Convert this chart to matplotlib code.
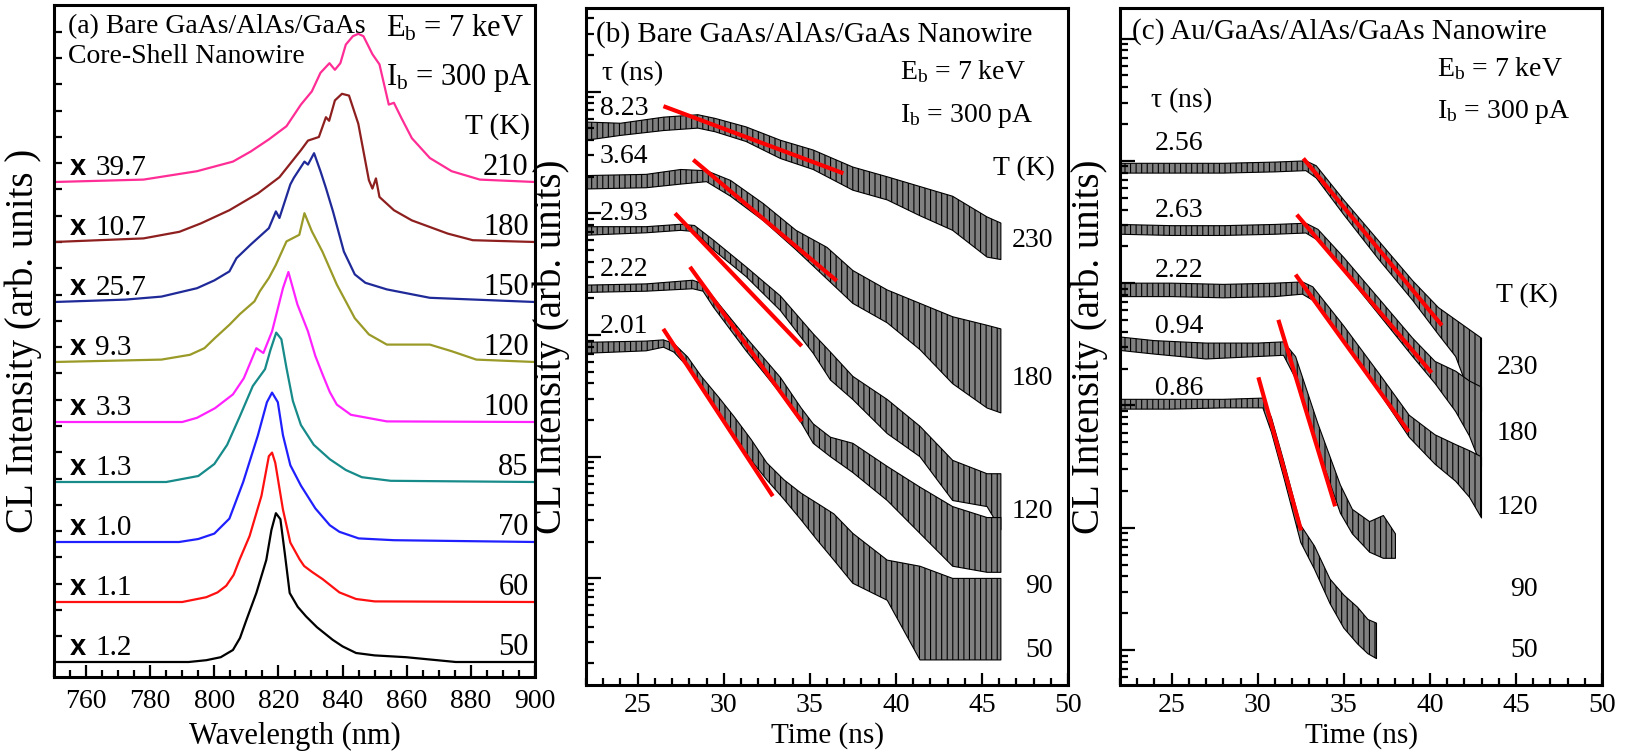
import numpy as np
import matplotlib.pyplot as plt
from matplotlib.ticker import MultipleLocator, LogLocator, NullFormatter

plt.rcParams['font.family'] = 'Liberation Serif'
plt.rcParams['mathtext.fontset'] = 'custom'
plt.rcParams['mathtext.rm'] = 'Liberation Serif'
plt.rcParams['mathtext.it'] = 'Liberation Serif:italic'
plt.rcParams['hatch.linewidth'] = 0.8

# ---------------- (a) CL spectra (heights in units of the trace spacing) ----------------
temps_a = [50, 60, 70, 85, 100, 120, 150, 180, 210]
scale_a = [1.2, 1.1, 1.0, 1.3, 3.3, 9.3, 25.7, 10.7, 39.7]

wl_50 = [750, 792, 797.5, 802, 805.8, 808, 810, 813.1, 816.2, 817.8, 819.2, 820.6, 822, 823.5, 826,
         828.6, 832, 836.9, 840, 844.2, 850, 859.8, 875.3, 900]
cl_50 = [0, 0, 0.03, 0.08, 0.2, 0.4, 0.7, 1.15, 1.7, 2.2, 2.48, 2.38, 1.8, 1.15, 0.92,
         0.76, 0.58, 0.37, 0.26, 0.15, 0.11, 0.08, 0.0, 0]
wl_60 = [750, 790, 797.5, 801, 803.7, 806, 807.9, 811, 814.7, 817, 818, 819, 821.4, 823.7, 826.6,
         828, 830.5, 833.8, 839, 844.2, 850, 900]
cl_60 = [0, 0, 0.08, 0.16, 0.27, 0.45, 0.71, 1.1, 1.77, 2.43, 2.49, 2.32, 1.54, 0.99, 0.71,
         0.6, 0.5, 0.38, 0.16, 0.05, 0.01, 0]
wl_70 = [750, 789, 795, 800, 804.7, 809, 813.6, 816.4, 818, 819.8, 821.4, 823.7, 827, 831.5, 836,
         839, 845, 856, 900]
cl_70 = [0, 0, 0.05, 0.14, 0.39, 1.0, 1.78, 2.33, 2.49, 2.33, 1.78, 1.28, 0.94, 0.56, 0.28,
         0.17, 0.06, 0.03, 0]
wl_85 = [750, 785, 795, 800, 804, 808, 812, 815.8, 817.5, 819.3, 820.9, 822.5, 824.5, 827, 831,
         836, 841, 846, 855, 900]
cl_85 = [0, 0, 0.1, 0.3, 0.62, 1.1, 1.6, 1.88, 2.2, 2.49, 2.38, 1.9, 1.35, 0.95, 0.62,
         0.38, 0.2, 0.08, 0.02, 0]
wl_100 = [750, 790, 794.6, 800.2, 805.8, 809.2, 813.1, 815.3, 818, 821.4, 823.1, 825.9, 829.2,
          831.5, 833.7, 836, 838.2, 842.6, 853.8, 900]
cl_100 = [0, 0, 0.07, 0.23, 0.46, 0.73, 1.23, 1.15, 1.51, 2.23, 2.5, 1.96, 1.51,
          1.1, 0.8, 0.5, 0.29, 0.12, 0.01, 0]
wl_120 = [750, 783.5, 792.4, 796.9, 800.2, 804.7, 808, 812.5, 814.2, 817, 819.2, 822.5, 826.5,
          828.1, 830.4, 833.7, 838.2, 843.8, 848.2, 853.8, 860, 867.2, 874, 881.7, 900]
cl_120 = [0, 0.04, 0.12, 0.23, 0.4, 0.62, 0.8, 1.01, 1.18, 1.4, 1.62, 2.01, 2.12,
          2.48, 2.18, 1.84, 1.29, 0.73, 0.46, 0.29, 0.29, 0.29, 0.18, 0.04, 0]
wl_150 = [750, 772.3, 783.5, 794.6, 800, 804.7, 806.9, 811.4, 817, 819.2, 820.3, 823.7, 824.8,
          828.1, 829.2, 831.1, 833.1, 834.8, 837, 840.4, 843.8, 847.1, 853.8, 867.2, 900]
cl_150 = [0, 0.04, 0.09, 0.23, 0.36, 0.51, 0.73, 0.96, 1.23, 1.51, 1.4, 1.96, 2.07,
          2.34, 2.29, 2.48, 2.18, 1.9, 1.51, 0.84, 0.46, 0.32, 0.21, 0.07, 0]
wl_180 = [750, 777.9, 789.1, 795.8, 804.7, 813.6, 820.3, 827, 829.2, 832.6, 834.8, 835.8, 837.6,
          839.8, 842, 844.9, 848.2, 849.3, 850.4, 851.5, 856, 861.6, 872.8, 880.6, 900]
cl_180 = [0, 0.06, 0.17, 0.31, 0.53, 0.81, 1.08, 1.53, 1.69, 1.75, 2.08, 2.02, 2.36,
          2.47, 2.44, 1.97, 1.03, 0.89, 1.06, 0.75, 0.53, 0.36, 0.14, 0.03, 0]
wl_210 = [750, 777.9, 794.6, 805.8, 811.4, 817, 822.5, 827, 830.4, 833.1, 835.9, 837.6, 839.3,
          841, 843.2, 844.9, 846.5, 849.3, 851.5, 854.4, 856, 858.3, 861.6, 867.2, 874, 882.8, 900]
cl_210 = [0, 0.04, 0.18, 0.34, 0.51, 0.71, 0.93, 1.29, 1.51, 1.82, 1.98, 1.87, 1.98,
          2.29, 2.43, 2.47, 2.43, 2.13, 1.96, 1.29, 1.32, 1.07, 0.73, 0.4, 0.18, 0.04, 0]

wl_a = [wl_50, wl_60, wl_70, wl_85, wl_100, wl_120, wl_150, wl_180, wl_210]
cl_a = [cl_50, cl_60, cl_70, cl_85, cl_100, cl_120, cl_150, cl_180, cl_210]
colors_a = ['black', '#ff1010', '#2020ff', '#178a8a', '#ff22ff', '#9a9a28', '#1f2a98', '#8e1f1f', '#ff2d95']

# ---------------- (b) bare nanowire decays, log10 intensity envelopes ----------------
temps_b = [230, 180, 120, 90, 50]
tau_b = [8.23, 3.64, 2.93, 2.22, 2.01]

tb_230 = [22.0, 24.0, 26.5, 28.5, 29.5, 31.3, 33.3, 35.2, 37.5, 39.5, 41.4, 43.3, 45.3, 46.1]
hb_230 = [3.75, 3.74, 3.79, 3.81, 3.78, 3.71, 3.60, 3.52, 3.38, 3.30, 3.22, 3.14, 2.97, 2.92]
lb_230 = [3.60, 3.64, 3.68, 3.70, 3.67, 3.59, 3.45, 3.36, 3.19, 3.11, 2.98, 2.86, 2.64, 2.62]

tb_180 = [22.0, 25.5, 27.5, 29.0, 30.4, 32.3, 34.2, 36.0, 37.5, 39.5, 41.4, 43.3, 45.3, 46.1]
hb_180 = [3.31, 3.32, 3.36, 3.35, 3.27, 3.08, 2.86, 2.72, 2.53, 2.37, 2.26, 2.15, 2.08, 2.05]
lb_180 = [3.20, 3.21, 3.24, 3.26, 3.14, 2.94, 2.70, 2.46, 2.26, 2.10, 1.88, 1.60, 1.40, 1.36]

tb_120 = [22.0, 25.5, 27.5, 28.3, 29.4, 31.3, 33.3, 35.2, 36.2, 37.5, 39.5, 41.4, 43.3, 45.3, 46.1]
hb_120 = [2.89, 2.89, 2.91, 2.90, 2.78, 2.56, 2.32, 2.01, 1.86, 1.66, 1.47, 1.25, 0.97, 0.86, 0.86]
lb_120 = [2.82, 2.84, 2.86, 2.85, 2.70, 2.48, 2.20, 1.85, 1.63, 1.47, 1.19, 1.00, 0.64, 0.59, 0.40]

tb_90 = [22.0, 25.5, 28.2, 28.8, 29.4, 31.3, 33.3, 34.5, 35.2, 36.2, 37.5, 39.5, 41.4, 43.3, 45.3, 46.1]
hb_90 = [2.41, 2.42, 2.45, 2.42, 2.31, 1.98, 1.65, 1.40, 1.27, 1.16, 1.11, 0.92, 0.75, 0.59, 0.50, 0.50]
lb_90 = [2.35, 2.36, 2.38, 2.36, 2.23, 1.87, 1.52, 1.28, 1.11, 1.00, 0.87, 0.64, 0.37, 0.10, 0.05, 0.05]

tb_50 = [22.0, 25.5, 26.5, 27.1, 27.9, 28.7, 29.7, 30.6, 31.6, 32.5, 33.5, 34.5, 35.4, 36.4, 37.5,
         39.5, 41.4, 43.3, 46.1]
hb_50 = [1.94, 1.95, 1.96, 1.93, 1.82, 1.66, 1.49, 1.33, 1.14, 0.95, 0.81, 0.70, 0.62, 0.53, 0.37,
         0.15, 0.10, 0.00, 0.00]
lb_50 = [1.85, 1.87, 1.90, 1.86, 1.74, 1.58, 1.36, 1.17, 0.97, 0.81, 0.65, 0.48, 0.32, 0.15, -0.04,
         -0.18, -0.67, -0.67, -0.67]

# fitted range of each decay: start time, start log10 level, end time
fit_t0_b = [26.5, 28.23, 27.17, 28.04, 26.49]
fit_l0_b = [3.88, 3.44, 3.00, 2.56, 2.05]
fit_t1_b = [36.95, 36.57, 34.53, 34.53, 32.85]

# ---------------- (c) Au-coated nanowire decays ----------------
temps_c = [230, 180, 120, 90, 50]
tau_c = [2.56, 2.63, 2.22, 0.94, 0.86]

tc_230 = [22.0, 25.0, 28.0, 31.0, 32.8, 33.4, 35.0, 37.0, 39.0, 40.5, 41.5, 42.3, 43.0]
hc_230 = [3.98, 3.98, 3.98, 3.99, 4.00, 3.96, 3.68, 3.35, 3.02, 2.80, 2.70, 2.62, 2.55]
lc_230 = [3.90, 3.90, 3.90, 3.91, 3.92, 3.86, 3.56, 3.20, 2.86, 2.58, 2.40, 2.10, 1.95]

tc_180 = [22.0, 25.0, 28.0, 31.0, 32.8, 33.5, 35.0, 37.0, 39.0, 40.3, 41.5, 42.3, 43.0]
hc_180 = [3.48, 3.47, 3.47, 3.48, 3.49, 3.44, 3.21, 2.88, 2.55, 2.36, 2.28, 2.20, 2.15]
lc_180 = [3.40, 3.39, 3.39, 3.40, 3.41, 3.35, 3.10, 2.75, 2.40, 2.18, 1.95, 1.75, 1.50]

tc_120 = [22.0, 25.0, 28.0, 31.0, 32.6, 33.2, 35.0, 37.0, 38.8, 40.3, 41.5, 42.3, 43.0]
hc_120 = [3.00, 3.00, 2.99, 3.00, 3.01, 2.97, 2.65, 2.27, 1.92, 1.76, 1.68, 1.63, 1.58]
lc_120 = [2.89, 2.89, 2.88, 2.89, 2.91, 2.86, 2.52, 2.12, 1.74, 1.52, 1.38, 1.25, 1.08]

tc_90 = [22.0, 24.0, 27.0, 30.0, 31.5, 32.2, 33.5, 34.8, 35.5, 36.5, 37.3, 38.0]
hc_90 = [2.56, 2.53, 2.51, 2.51, 2.52, 2.40, 1.85, 1.35, 1.15, 1.05, 1.10, 0.95]
lc_90 = [2.45, 2.42, 2.38, 2.40, 2.41, 2.22, 1.65, 1.12, 0.95, 0.80, 0.75, 0.75]

tc_50 = [22.0, 25.0, 28.0, 30.3, 30.8, 31.5, 32.5, 33.3, 34.2, 35.0, 35.8, 36.4, 36.9]
hc_50 = [2.05, 2.05, 2.05, 2.06, 1.90, 1.55, 1.02, 0.85, 0.58, 0.45, 0.35, 0.25, 0.22]
lc_50 = [1.97, 1.97, 1.98, 1.98, 1.78, 1.42, 0.88, 0.66, 0.38, 0.18, 0.05, -0.03, -0.07]

fit_t0_c = [32.65, 32.27, 32.2, 31.2, 30.04]
fit_l0_c = [4.02, 3.56, 3.07, 2.70, 2.23]
fit_t1_c = [40.7, 40.1, 38.77, 34.5, 32.52]


def style_axes(ax, pad=6):
    for s in ax.spines.values():
        s.set_linewidth(2.2)
    ax.tick_params(which='both', direction='in', top=False, right=False, width=1.6,
                   labelsize=20, pad=pad)
    ax.tick_params(which='major', length=9)
    ax.tick_params(which='minor', length=5)
    ax.tick_params(axis='y', labelleft=False)


def draw_decay(ax, t, hi, lo):
    # noisy trace drawn as its envelope, grey with vertical strokes
    ax.fill_between(t, 10 ** np.array(lo), 10 ** np.array(hi), facecolor='0.5',
                    edgecolor='black', hatch='|||', lw=0.8)


def draw_fit(ax, t0, l0, t1, tau):
    tt = np.array([t0, t1])
    ax.plot(tt, 10 ** (l0 - (tt - t0) / (tau * np.log(10))), color='red', lw=3,
            solid_capstyle='butt', zorder=3)


def eb_ib(ax, x, y1, y2, size):
    ax.text(x, y1, r'E$_\mathrm{b}$ = 7 keV', fontsize=size, va='baseline')
    ax.text(x, y2, r'I$_\mathrm{b}$ = 300 pA', fontsize=size, va='baseline')


fig = plt.figure(figsize=(16.26, 7.52), dpi=100)
ax_a = fig.add_axes([54 / 1626, 1 - 677 / 752, 481 / 1626, 672 / 752])
ax_b = fig.add_axes([586 / 1626, 1 - 685 / 752, 482 / 1626, 677 / 752])
ax_c = fig.add_axes([1120 / 1626, 1 - 685 / 752, 482 / 1626, 677 / 752])

# ---- panel (a) ----
for i, (wl, cl, col) in enumerate(zip(wl_a, cl_a, colors_a)):
    ax_a.plot(wl, i + np.array(cl), color=col, lw=1.6)
    ax_a.text(754.9, i + 0.12, 'x', fontsize=21, fontweight='bold',
              family='Liberation Sans', va='baseline')
    ax_a.text(762.9, i + 0.12, '%.1f' % scale_a[i], fontsize=21, va='baseline')
    ax_a.text(898, i + 0.12, str(temps_a[i]), fontsize=22, va='baseline', ha='right')

ax_a.set_xlim(750, 900)
ax_a.set_ylim(-0.25, 10.95)
style_axes(ax_a, pad=9)
ax_a.xaxis.set_minor_locator(MultipleLocator(5))
ax_a.set_xticks(np.arange(760, 901, 20))
ax_a.set_yticks(0.43 + 0.438 * np.arange(24))
ax_a.tick_params(axis='y', which='major', length=6)
ax_a.set_xlabel('Wavelength (nm)', fontsize=22, va='center')
ax_a.xaxis.set_label_coords(0.5, -0.088)
ax_a.set_ylabel('CL Intensity (arb. units )', fontsize=28, va='center')
ax_a.yaxis.set_label_coords(-0.064, 0.5)
ax_a.text(754.4, 10.48, '(a) Bare GaAs/AlAs/GaAs', fontsize=20, va='baseline')
ax_a.text(754.4, 9.98, 'Core-Shell Nanowire', fontsize=20, va='baseline')
eb_ib(ax_a, 853.5, 10.42, 9.62, 22)
ax_a.text(898.4, 8.81, 'T (K)', fontsize=21, va='baseline', ha='right')

# ---- panel (b) ----
b_traces = [(tb_230, hb_230, lb_230), (tb_180, hb_180, lb_180), (tb_120, hb_120, lb_120),
            (tb_90, hb_90, lb_90), (tb_50, hb_50, lb_50)]
for t, hi, lo in b_traces:
    draw_decay(ax_b, t, hi, lo)
for k in range(5):
    draw_fit(ax_b, fit_t0_b[k], fit_l0_b[k], fit_t1_b[k], tau_b[k])

# ---- panel (c) ----
c_traces = [(tc_230, hc_230, lc_230), (tc_180, hc_180, lc_180), (tc_120, hc_120, lc_120),
            (tc_90, hc_90, lc_90), (tc_50, hc_50, lc_50)]
for t, hi, lo in c_traces:
    draw_decay(ax_c, t, hi, lo)
for k in range(5):
    draw_fit(ax_c, fit_t0_c[k], fit_l0_c[k], fit_t1_c[k], tau_c[k])

for ax, lims in [(ax_b, (-0.876, 4.687)), (ax_c, (-0.286, 5.25))]:
    ax.set_yscale('log')
    ax.set_xlim(22, 50)
    ax.set_ylim(10 ** lims[0], 10 ** lims[1])
    style_axes(ax)
    ax.yaxis.set_major_locator(LogLocator(base=10))
    ax.yaxis.set_minor_locator(LogLocator(base=10, subs=np.arange(2, 10)))
    ax.yaxis.set_minor_formatter(NullFormatter())
    ax.tick_params(axis='y', which='major', length=11)
    ax.tick_params(axis='y', which='minor', length=6)
    ax.xaxis.set_major_locator(MultipleLocator(5))
    ax.xaxis.set_minor_locator(MultipleLocator(1))
    ax.set_xlabel('Time (ns)', fontsize=21, va='center')
    ax.xaxis.set_label_coords(0.5, -0.074)
    ax.set_ylabel('CL Intensity (arb. units)', fontsize=28, va='center')

ax_b.yaxis.set_label_coords(-0.072, 0.5)
ax_c.yaxis.set_label_coords(-0.064, 0.5)

# text for (b)
ax_b.text(22.58, 10 ** 4.41, '(b) Bare GaAs/AlAs/GaAs Nanowire', fontsize=21, va='baseline')
ax_b.text(22.87, 10 ** 4.096, r'$\mathrm{\tau}$ (ns)', fontsize=20, va='baseline')
for tau, lv in zip(tau_b, [3.808, 3.411, 2.945, 2.485, 2.014]):
    ax_b.text(22.81, 10 ** lv, '%.2f' % tau, fontsize=20, va='baseline')
eb_ib(ax_b, 40.25, 10 ** 4.106, 10 ** 3.753, 20)
ax_b.text(49.25, 10 ** 3.315, 'T (K)', fontsize=20, va='baseline', ha='right')
for T, lv in zip(temps_b, [2.726, 1.589, 0.494, -0.122, -0.643]):
    ax_b.text(49.14, 10 ** lv, str(T), fontsize=20, va='baseline', ha='right')

# text for (c)
ax_c.text(22.70, 10 ** 5.0, '(c) Au/GaAs/AlAs/GaAs Nanowire', fontsize=21, va='baseline')
ax_c.text(23.74, 10 ** 4.437, r'$\mathrm{\tau}$ (ns)', fontsize=20, va='baseline')
for tau, lv in zip(tau_c, [4.088, 3.543, 3.052, 2.589, 2.085]):
    ax_c.text(24.03, 10 ** lv, '%.2f' % tau, fontsize=20, va='baseline')
eb_ib(ax_c, 40.42, 10 ** 4.69, 10 ** 4.35, 20)
ax_c.text(43.85, 10 ** 2.846, 'T (K)', fontsize=20, va='baseline')
for T, lv in zip(temps_c, [2.257, 1.714, 1.11, 0.438, -0.056]):
    ax_c.text(46.29, 10 ** lv, str(T), fontsize=20, va='baseline', ha='right')

fig.savefig('out.png', dpi=100)
